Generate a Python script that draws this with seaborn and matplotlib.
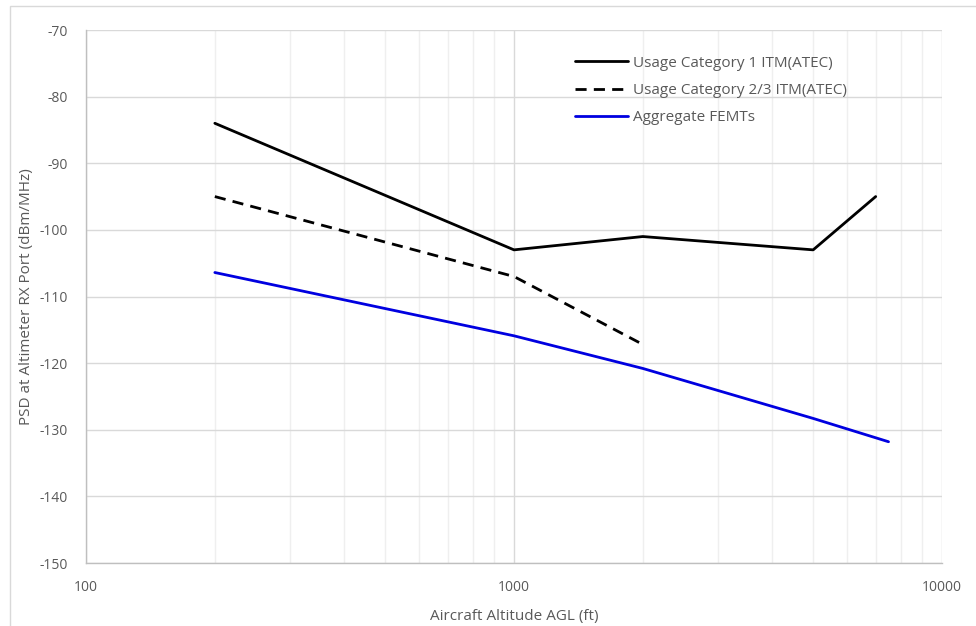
import matplotlib
matplotlib.use("Agg")
import matplotlib.pyplot as plt
import seaborn as sns
import pandas as pd
from matplotlib.patches import Rectangle
from matplotlib.ticker import FixedLocator, NullFormatter

# Data
cat1_alt = [200, 1000, 2000, 5000, 7000]
cat1_psd = [-84, -103, -101, -103, -95]
cat23_alt = [200, 1000, 2000]
cat23_psd = [-95, -107, -117.2]
femt_alt = [200, 1000, 2000, 5000, 7500]
femt_psd = [-106.4, -115.9, -120.8, -128.3, -131.8]

series_names = ["Usage Category 1 ITM(ATEC)", "Usage Category 2/3 ITM(ATEC)", "Aggregate FEMTs"]
y_ticks = [-70, -80, -90, -100, -110, -120, -130, -140, -150]
x_ticks = [100, 1000, 10000]

df = pd.concat([
    pd.DataFrame({"alt": cat1_alt, "psd": cat1_psd, "series": series_names[0]}),
    pd.DataFrame({"alt": cat23_alt, "psd": cat23_psd, "series": series_names[1]}),
    pd.DataFrame({"alt": femt_alt, "psd": femt_psd, "series": series_names[2]}),
])

sns.set_theme(style="white")
plt.rcParams["font.family"] = ["Open Sans", "DejaVu Sans"]
plt.rcParams["axes.unicode_minus"] = False

fig = plt.figure(figsize=(9.76, 6.26), dpi=100)
ax = fig.add_axes([86/976, 1 - 563/626, (942-86)/976, (563-30)/626])

palette = {series_names[0]: "#000000", series_names[1]: "#000000", series_names[2]: "#0000e0"}
dashes = {series_names[0]: "", series_names[1]: (4, 2.6), series_names[2]: ""}
sns.lineplot(data=df, x="alt", y="psd", hue="series", style="series",
             palette=palette, dashes=dashes, linewidth=2.0, ax=ax, sort=False,
             estimator=None)

ax.set_xscale("log")
ax.set_xlim(100, 10000)
ax.set_ylim(-150, -70)
ax.set_yticks(y_ticks)
ax.xaxis.set_major_locator(FixedLocator(x_ticks))
ax.set_xticklabels([str(v) for v in x_ticks])
minor = [m * d for d in (100, 1000) for m in range(2, 10)]
ax.xaxis.set_minor_locator(FixedLocator(minor))
ax.xaxis.set_minor_formatter(NullFormatter())

ax.grid(True, which="major", axis="both", color="#d9d9d9", linewidth=1.0)
ax.grid(True, which="minor", axis="x", color="#efefef", linewidth=1.0)
ax.set_axisbelow(True)

for s in ["top", "right"]:
    ax.spines[s].set_visible(False)
for s in ["left", "bottom"]:
    ax.spines[s].set_color("#bfbfbf")
    ax.spines[s].set_linewidth(1.0)

ax.tick_params(axis="both", which="both", length=0, labelsize=10, labelcolor="#595959")
ax.tick_params(axis="x", pad=12)
ax.tick_params(axis="y", pad=13)

ax.set_xlabel("Aircraft Altitude AGL (ft)", fontsize=11, color="#595959", labelpad=10)
ax.set_ylabel("PSD at Altimeter RX Port (dBm/MHz)", fontsize=11, color="#595959", labelpad=4)

leg = ax.legend(loc="upper left", bbox_to_anchor=((561-86)/856, (563-42)/533), frameon=False,
                fontsize=11, handlelength=3.5, handletextpad=0.3, labelspacing=0.8)
for t in leg.get_texts():
    t.set_color("#595959")

fig.patches.append(Rectangle((10/976, -0.01), 1.1, 1 - 6/626 + 0.01, transform=fig.transFigure,
                             fill=False, edgecolor="#d9d9d9", linewidth=1.0))

fig.savefig("out.png", dpi=100)
